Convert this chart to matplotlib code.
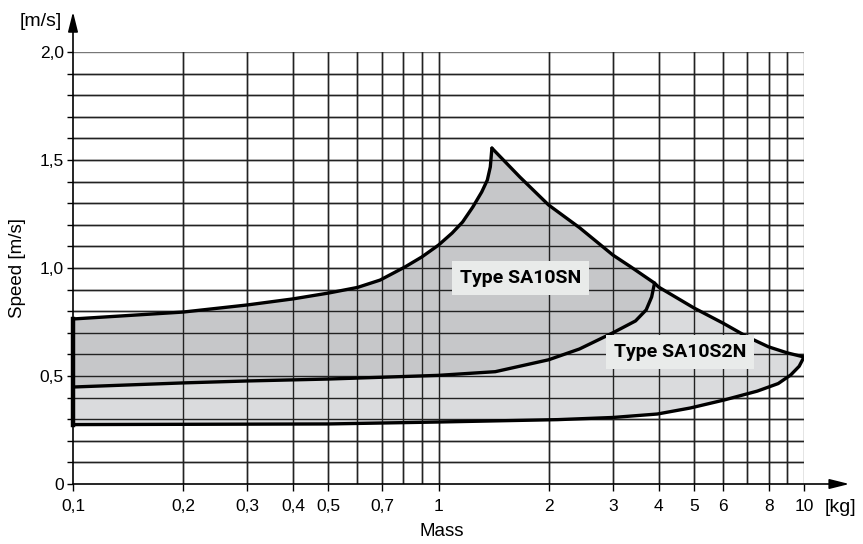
import numpy as np
import matplotlib.pyplot as plt

plt.rcParams['font.family'] = ['Liberation Sans', 'DejaVu Sans']

# Werte (Masse in kg, Geschwindigkeit in m/s)
top_m = [0.1, 0.2, 0.3, 0.4, 0.5, 0.6, 0.692, 0.81, 0.9, 1.0, 1.09, 1.164, 1.241, 1.313, 1.36, 1.386, 1.40]
top_v = [0.764, 0.796, 0.829, 0.857, 0.884, 0.91, 0.944, 1.005, 1.051, 1.106, 1.162, 1.213, 1.282, 1.352, 1.407, 1.468, 1.555]

desc_m = [1.40, 1.67, 2.0, 2.43, 3.0, 3.36, 3.9, 4.0, 5.0, 6.0, 7.0, 8.0, 9.0, 10.0]
desc_v = [1.555, 1.421, 1.292, 1.187, 1.06, 1.005, 0.93, 0.912, 0.815, 0.745, 0.681, 0.635, 0.607, 0.588]

mid_m = [0.1, 0.2, 0.3, 0.5, 1.0, 1.43, 2.0, 2.43, 3.0, 3.46, 3.70, 3.83, 3.9]
mid_v = [0.449, 0.468, 0.477, 0.486, 0.503, 0.52, 0.575, 0.625, 0.70, 0.755, 0.806, 0.866, 0.93]

bot_m = [0.1, 0.5, 1.0, 2.12, 3.0, 3.97, 4.89, 6.05, 7.45, 8.5, 9.2, 9.7, 10.0]
bot_v = [0.275, 0.278, 0.287, 0.298, 0.308, 0.324, 0.352, 0.389, 0.43, 0.465, 0.505, 0.545, 0.588]

xticks = [0.1, 0.2, 0.3, 0.4, 0.5, 0.7, 1, 2, 3, 4, 5, 6, 8, 10]
xlabels = ['0,1', '0,2', '0,3', '0,4', '0,5', '0,7', '1', '2', '3', '4', '5', '6', '8', '10']
xminor = [0.6, 0.8, 0.9, 7, 9]
yticks = [0, 0.5, 1.0, 1.5, 2.0]
ylabels = ['0', '0,5', '1,0', '1,5', '2,0']

fig = plt.figure(figsize=(8.63, 5.44), dpi=100)
ax = fig.add_axes([73/863, 60/544, 731/863, 432/544])
ax.set_xscale('log')
ax.set_xlim(0.1, 10)
ax.set_ylim(0, 2.0)

# Gitter
for v in np.arange(0.1, 2.01, 0.1):
    ax.axhline(v, color='#777777' if v > 1.95 else '#222222', lw=1.0, zorder=1)
for m in xticks[1:] + xminor:
    ax.axvline(m, color='#777777' if m == 10 else '#222222', lw=1.0, zorder=1)

# Bereich SA10S2N (hell)
i_j = desc_m.index(3.9)
light_x = bot_m + desc_m[:i_j - 1:-1] + mid_m[::-1]
light_y = bot_v + desc_v[:i_j - 1:-1] + mid_v[::-1]
ax.fill(light_x, light_y, color='#dadbdd', zorder=2, lw=0)

# Bereich SA10SN (dunkel)
dark_x = mid_m + desc_m[i_j::-1] + top_m[::-1]
dark_y = mid_v + desc_v[i_j::-1] + top_v[::-1]
ax.fill(dark_x, dark_y, color='#c6c7c9', zorder=3, lw=0)

# Gitter über den Flächen
for v in np.arange(0.1, 1.95, 0.1):
    ax.axhline(v, color='#222222', lw=1.0, zorder=4)
for m in xticks[1:-1] + xminor:
    ax.axvline(m, color='#222222', lw=1.0, zorder=4)

lw = 2.4
for xs, ys in [(top_m, top_v), (desc_m, desc_v), (mid_m, mid_v), (bot_m, bot_v)]:
    ax.plot(xs, ys, color='black', lw=lw, zorder=5, solid_capstyle='round', solid_joinstyle='round')
ax.plot([0.1, 0.1], [bot_v[0], top_v[0]], color='black', lw=3.2, zorder=5, clip_on=False)

box = dict(boxstyle='square,pad=0.4', fc='#e9ebea', ec='none')
ax.text(1.68, 0.954, 'Type SA10SN', ha='center', va='center', fontsize=14,
        fontweight='bold', family=['Roboto', 'DejaVu Sans'], bbox=box, zorder=6)
ax.text(4.58, 0.611, 'Type SA10S2N', ha='center', va='center', fontsize=14,
        fontweight='bold', family=['Roboto', 'DejaVu Sans'], bbox=box, zorder=6)

# Achsen
for s in ['top', 'right', 'bottom', 'left']:
    ax.spines[s].set_visible(False)
ax.set_xticks(xticks)
ax.set_xticklabels(xlabels)
ax.set_xticks([], minor=True)
ax.set_yticks(yticks)
ax.set_yticklabels(ylabels)
ax.set_yticks(np.arange(0, 2.01, 0.1), minor=True)
ax.tick_params(axis='x', which='major', length=5, width=1.0, pad=6, labelsize=12.5)
ax.tick_params(axis='y', which='both', length=4.5, width=1.0, pad=2, labelsize=12.5)

ax.annotate('', xy=(1.062, 0), xytext=(0, 0), xycoords='axes fraction',
            arrowprops=dict(arrowstyle='-|>,head_length=1.2,head_width=0.3', color='black', lw=1.2,
                            shrinkA=0, shrinkB=0), annotation_clip=False, zorder=7)
ax.annotate('', xy=(0, 1.093), xytext=(0, 0), xycoords='axes fraction',
            arrowprops=dict(arrowstyle='-|>,head_length=1.2,head_width=0.3', color='black', lw=1.2,
                            shrinkA=0, shrinkB=0), annotation_clip=False, zorder=7)

fig.text(840/863, 1 - 508/544, '[kg]', ha='center', va='center', fontsize=14)
fig.text(41/863, 1 - 22/544, '[m/s]', ha='center', va='center', fontsize=14)
fig.text(442/863, 1 - 531/544, 'Mass', ha='center', va='center', fontsize=13.5)
fig.text(18/863, 1 - 268/544, 'Speed [m/s]', ha='center', va='center', fontsize=13.5, rotation=90)

fig.savefig('out.png', dpi=100)
